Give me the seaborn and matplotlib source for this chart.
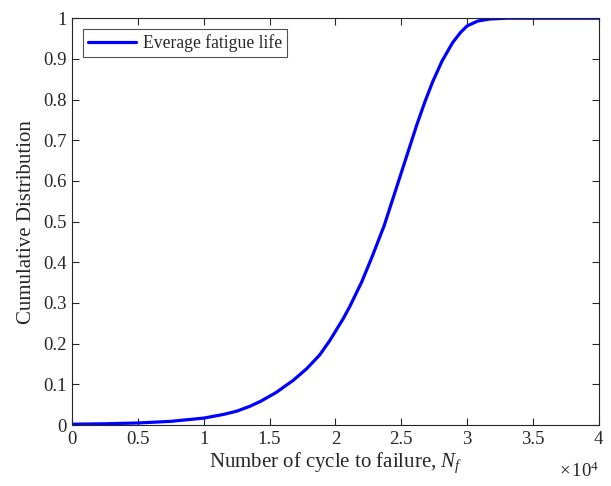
import matplotlib
matplotlib.use("Agg")
import matplotlib.pyplot as plt
import seaborn as sns
import pandas as pd

# Readings from the reference (x in units of 1e4 cycles)
cycles = [0.0, 0.25, 0.5, 0.75, 1.0, 1.15, 1.25, 1.35, 1.43, 1.55, 1.68, 1.78, 1.88, 1.96,
          2.06, 2.11, 2.2, 2.28, 2.37, 2.45, 2.54, 2.62, 2.68, 2.74, 2.81, 2.89, 2.95,
          3.0, 3.08, 3.17, 3.3, 3.5, 4.0]
cdf = [0.002, 0.003, 0.005, 0.009, 0.017, 0.026, 0.034, 0.046, 0.058, 0.080, 0.11, 0.138, 0.172, 0.209,
       0.262, 0.292, 0.352, 0.415, 0.49, 0.57, 0.66, 0.74, 0.795, 0.845, 0.895, 0.94, 0.965,
       0.981, 0.993, 0.998, 1.0, 1.0, 1.0]
series_name = "Everage fatigue life"
x_ticks = [0, 0.5, 1, 1.5, 2, 2.5, 3, 3.5, 4]
y_ticks = [0, 0.1, 0.2, 0.3, 0.4, 0.5, 0.6, 0.7, 0.8, 0.9, 1]

df = pd.DataFrame({"x": cycles, "y": cdf, "s": series_name})

sns.set_style("ticks")
plt.rcParams['font.family'] = ['Liberation Serif', 'DejaVu Serif']
plt.rcParams['mathtext.fontset'] = 'custom'
plt.rcParams['mathtext.rm'] = 'Liberation Serif'
plt.rcParams['mathtext.it'] = 'Liberation Serif:italic'

fig = plt.figure(figsize=(6.11, 4.86), dpi=100)
ax = fig.add_axes([0.118, 0.1255, 0.862, 0.837])
sns.lineplot(data=df, x="x", y="y", hue="s", palette=["#0000ff"], linewidth=2.3, ax=ax)

ax.set_xlim(0, 4)
ax.set_ylim(0, 1)
ax.set_xticks(x_ticks)
ax.set_xticklabels([f"{t:g}" for t in x_ticks])
ax.set_yticks(y_ticks)
ax.set_yticklabels([f"{t:g}" for t in y_ticks])
ax.tick_params(direction="in", top=True, right=True, length=5, width=0.8,
               labelsize=13.5, colors="#262626", pad=4)
for sp in ax.spines.values():
    sp.set_visible(True)
    sp.set_color("#262626")
    sp.set_linewidth(0.8)
ax.set_xlabel(r"Number of cycle to failure, $N_f$", fontsize=15, color="#262626", labelpad=2)
ax.set_ylabel("Cumulative Distribution", fontsize=15, color="#262626", labelpad=5)
ax.text(1.0, -0.09, r"$\times\,10^{4}$", transform=ax.transAxes, ha="right", va="top",
        fontsize=13.5, color="#262626")

leg = ax.legend(loc="upper left", fontsize=12.7, frameon=True, fancybox=False,
                edgecolor="#262626", handlelength=2.7, borderaxespad=0.6,
                borderpad=0.3, handletextpad=0.4)
leg.get_frame().set_linewidth(0.8)
leg.set_title(None)

fig.savefig("out.png", dpi=100)
